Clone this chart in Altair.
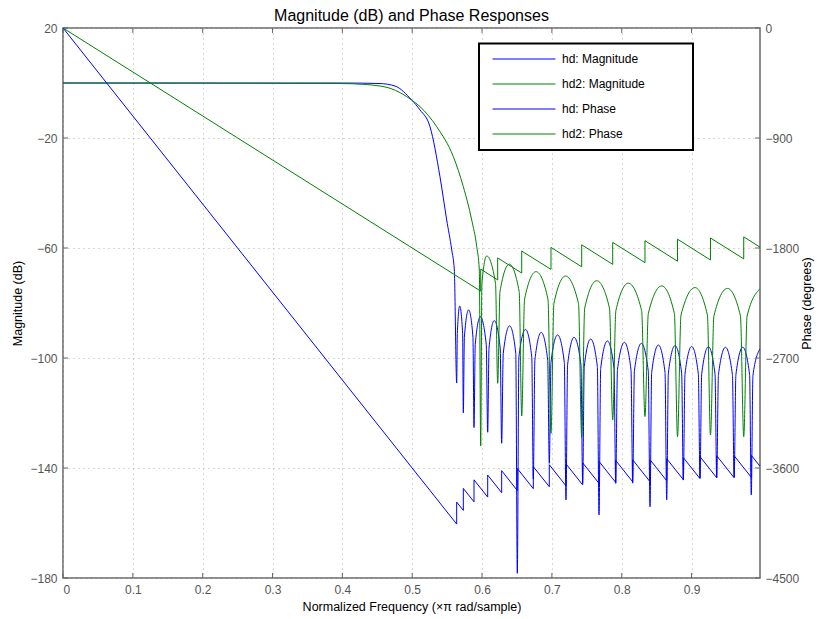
import altair as alt
import pandas as pd

# ---------------- data ----------------
# hd (blue) magnitude response, dB
hd_mag_f = [0, 0.40, 0.4539, 0.4754, 0.4993, 0.5112, 0.5255, 0.5398, 0.5494, 0.5566, 0.5603,
            0.5637, 0.5646, 0.5680, 0.5722,
            0.5732, 0.5747, 0.5808, 0.5870,
            0.5885, 0.5903, 0.5975, 0.6060,
            0.6081, 0.6100, 0.6175, 0.6260,
            0.6281, 0.6304, 0.6395, 0.6483,
            0.6505, 0.6528, 0.6622, 0.6712,
            0.6734, 0.6757, 0.6847, 0.6940,
            0.6963, 0.6987, 0.7082, 0.7178,
            0.7202, 0.7225, 0.7318, 0.7416,
            0.7441, 0.7464, 0.7555, 0.7651,
            0.7675, 0.7699, 0.7795, 0.7890,
            0.7914, 0.7939, 0.8038, 0.8133,
            0.8157, 0.8182, 0.8281, 0.8380,
            0.8405, 0.8429, 0.8525, 0.8620,
            0.8644, 0.8668, 0.8763, 0.8858,
            0.8882, 0.8906, 0.9002, 0.9097,
            0.9121, 0.9145, 0.9241, 0.9336,
            0.9360, 0.9385, 0.9485, 0.9585,
            0.9610, 0.9635, 0.9733, 0.9831,
            0.9855, 0.9879, 0.998]
hd_mag_db = [0, 0, -0.2, -1.1, -6.2, -9.8, -15.9, -34.1, -49.8, -60.7, -68.0,
             -109.1, -91.1, -81.1, -91.1,
             -119.9, -92.5, -82.5, -92.5,
             -125.3, -95.0, -85.0, -95.0,
             -127.0, -96.4, -86.4, -96.4,
             -131.0, -98.3, -88.3, -98.3,
             -178.3, -99.6, -89.6, -99.6,
             -144.0, -100.7, -90.7, -100.7,
             -138.3, -101.6, -91.6, -101.6,
             -151.6, -102.5, -92.5, -102.5,
             -145.5, -103.1, -93.1, -103.1,
             -157.1, -103.8, -93.8, -103.8,
             -145.6, -104.3, -94.3, -104.3,
             -145.5, -104.7, -94.7, -104.7,
             -154.1, -105.3, -95.3, -105.3,
             -151.6, -105.5, -95.5, -105.5,
             -144.4, -105.8, -95.8, -105.8,
             -143.6, -105.9, -95.9, -105.9,
             -143.6, -106.1, -96.1, -106.1,
             -143.3, -106.1, -96.1, -106.1,
             -149.8, -106.4, -96.6]

# hd2 (green) magnitude response, dB
hd2_mag_f = [0, 0.40, 0.43, 0.4539, 0.4682, 0.4993, 0.5112, 0.5351, 0.5589, 0.5732, 0.5852, 0.5924, 0.5961,
             0.5981, 0.5998, 0.6067, 0.6193,
             0.6224, 0.6257, 0.6390, 0.6532,
             0.6568, 0.6609, 0.6773, 0.6944,
             0.6987, 0.7029, 0.7195, 0.7381,
             0.7427, 0.7470, 0.7642, 0.7825,
             0.7871, 0.7916, 0.8094, 0.8285,
             0.8333, 0.8381, 0.8572, 0.8754,
             0.8799, 0.8849, 0.9049, 0.9227,
             0.9271, 0.9320, 0.9514, 0.9700,
             0.9747, 0.9795, 0.998]
hd2_mag_db = [0, -0.2, -0.5, -1.1, -1.9, -6.2, -8.6, -15.9, -26.8, -37.7, -49.8, -59.5, -68.0,
              -132.0, -72.9, -62.9, -72.9,
              -109.2, -75.9, -65.9, -75.9,
              -121.1, -78.6, -68.6, -78.6,
              -127.4, -80.2, -70.2, -80.2,
              -128.9, -81.9, -71.9, -81.9,
              -122.5, -82.8, -72.8, -82.8,
              -121.3, -83.8, -73.8, -83.8,
              -128.6, -84.4, -74.4, -84.4,
              -128.0, -84.7, -74.7, -84.7,
              -128.6, -84.8, -74.8]

# hd (blue) phase response, degrees
hd_ph_f = [0, 0.5637, 0.5637, 0.5732, 0.5732, 0.5885, 0.5885, 0.6081, 0.6081, 0.6281, 0.6281,
           0.6505, 0.6505, 0.6734, 0.6734, 0.6963, 0.6963, 0.7202, 0.7202, 0.7441, 0.7441,
           0.7675, 0.7675, 0.7914, 0.7914, 0.8157, 0.8157, 0.8405, 0.8405, 0.8644, 0.8644,
           0.8882, 0.8882, 0.9121, 0.9121, 0.9360, 0.9360, 0.9610, 0.9610, 0.9855, 0.9855, 0.998]
hd_ph_deg = [0, -4059, -3879, -3947, -3767, -3877, -3697, -3838, -3658, -3802, -3622,
             -3784, -3604, -3769, -3589, -3753, -3573, -3746, -3566, -3738, -3558,
             -3726, -3546, -3718, -3538, -3713, -3533, -3712, -3532, -3704, -3524,
             -3695, -3515, -3687, -3507, -3680, -3500, -3680, -3500, -3676, -3496, -3586]

# hd2 (green) phase response, degrees
hd2_ph_f = [0, 0.5981, 0.5981, 0.6224, 0.6224, 0.6568, 0.6568, 0.6987, 0.6987, 0.7427, 0.7427,
            0.7871, 0.7871, 0.8333, 0.8333, 0.8799, 0.8799, 0.9271, 0.9271, 0.9747, 0.9747, 0.998]
hd2_ph_deg = [0, -2153, -1973, -2061, -1881, -2005, -1825, -1975, -1795, -1954, -1774,
              -1934, -1754, -1920, -1740, -1908, -1728, -1898, -1718, -1889, -1709, -1793]

x_ticks = [0, 0.1, 0.2, 0.3, 0.4, 0.5, 0.6, 0.7, 0.8, 0.9]
mag_ticks = [20, -20, -60, -100, -140, -180]
ph_ticks = [0, -900, -1800, -2700, -3600, -4500]

series_names = ["hd: Magnitude", "hd2: Magnitude", "hd: Phase", "hd2: Phase"]
series_colors = ["#0000ff", "#008000", "#0000ff", "#008000"]

# ---------------- tables ----------------
def table(f, v, name):
    assert len(f) == len(v), name
    return pd.DataFrame({"f": f, "v": v, "series": name, "i": list(range(len(f)))})

mag_df = pd.concat([table(hd_mag_f, hd_mag_db, series_names[0]),
                    table(hd2_mag_f, hd2_mag_db, series_names[1])])
ph_df = pd.concat([table(hd_ph_f, hd_ph_deg, series_names[2]),
                   table(hd2_ph_f, hd2_ph_deg, series_names[3])])
xt_df = pd.DataFrame({"f": x_ticks})
mt_df = pd.DataFrame({"v": mag_ticks})
box_df = pd.DataFrame({"k": [0]})

FONT = "Liberation Sans"
AXC = "#666666"
GRID = "#b0b0b0"

xscale = alt.Scale(domain=[0, 0.998], nice=False, zero=False)
mscale = alt.Scale(domain=[-180, 20], nice=False, zero=False)
pscale = alt.Scale(domain=[-4500, 0], nice=False, zero=False)

legend = alt.Legend(title=None, orient="none", legendX=416, legendY=16,
                    symbolType="stroke", symbolSize=3969, symbolStrokeWidth=1,
                    clipHeight=12, rowPadding=13, padding=9, symbolOffset=4,
                    labelOffset=6, labelFontSize=12, labelFont=FONT, labelColor="black")
color = alt.Color("series:N", scale=alt.Scale(domain=series_names, range=series_colors), legend=legend)

xenc = alt.X("f:Q", scale=xscale,
             axis=alt.Axis(values=x_ticks, labelExpr="datum.value == 0 ? '0' : format(datum.value, '.1f')",
                           title="Normalized Frequency (×π rad/sample)",
                           grid=True, gridDash=[1, 4], gridColor=GRID, ticks=False, tickSize=0,
                           domain=False, labelPadding=6, titlePadding=5))
menc = alt.Y("v:Q", scale=mscale,
             axis=alt.Axis(orient="left", values=mag_ticks, format="d", title="Magnitude (dB)",
                           grid=True, gridDash=[1, 4], gridColor=GRID, ticks=False, tickSize=0,
                           domain=False, labelPadding=6, titlePadding=5))
penc = alt.Y("v:Q", scale=pscale,
             axis=alt.Axis(orient="right", values=ph_ticks, format="d", title="Phase (degrees)",
                           grid=False, ticks=False, tickSize=0, domain=False,
                           labelPadding=5, titlePadding=15, titleAngle=270))

mag_lines = alt.Chart(mag_df).mark_line(interpolate="monotone", strokeWidth=1, clip=True).encode(
    x=xenc, y=menc, color=color, order="i:Q")

xt_bottom = alt.Chart(xt_df).mark_rule(color=AXC).encode(x=xenc, y=alt.value(550), y2=alt.value(545))
xt_top = alt.Chart(xt_df).mark_rule(color=AXC).encode(x=xenc, y=alt.value(0), y2=alt.value(5))
mt_left = alt.Chart(mt_df).mark_rule(color=AXC).encode(y=menc, x=alt.value(0), x2=alt.value(5))
mt_right = alt.Chart(mt_df).mark_rule(color=AXC).encode(y=menc, x=alt.value(692), x2=alt.value(697))

# legend frame
legend_box = alt.Chart(box_df).mark_rect(fill="white", stroke="black", strokeWidth=2).encode(
    x=alt.value(416), x2=alt.value(630), y=alt.value(15.5), y2=alt.value(122))

mag_group = alt.layer(mag_lines, xt_bottom, xt_top, mt_left, mt_right)

ph_lines = alt.Chart(ph_df).mark_line(interpolate="linear", strokeWidth=1, clip=True).encode(
    x=xenc, y=penc, color=color, order="i:Q")

chart = alt.layer(mag_group, ph_lines, legend_box).resolve_scale(y="independent").properties(
    width=697, height=550,
    title=alt.Title("Magnitude (dB) and Phase Responses", fontSize=16, font=FONT,
                    fontWeight="normal", offset=-2, anchor="middle", frame="group", color="black"),
    autosize=alt.AutoSizeParams(type="none"),
    padding={"left": 55, "top": 20, "right": 55, "bottom": 38},
).configure_view(stroke=AXC, strokeWidth=1.5).configure_axis(
    labelFont=FONT, labelFontSize=12, labelColor="#555555",
    titleFont=FONT, titleFontSize=12.5, titleFontWeight="normal", titleColor="black",
)

chart.save("out.html", embed_options={"renderer": "svg", "actions": False})
